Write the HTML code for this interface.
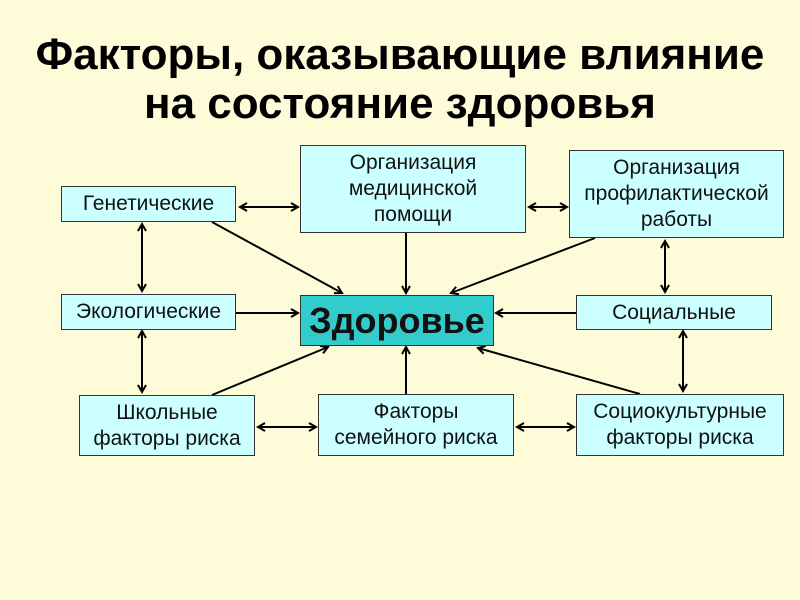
<!DOCTYPE html>
<html><head><meta charset="utf-8"><style>
body{margin:0;width:800px;height:600px;background:#fefcd8;position:relative;overflow:hidden;font-family:"Liberation Sans",sans-serif}
.t{position:absolute;left:0;width:800px;text-align:center;font-weight:bold;font-size:44px;color:#000}
.b{position:absolute;box-sizing:border-box;border:1px solid #333;background:#ccffff;display:flex;align-items:center;justify-content:center;text-align:center;font-size:21px;line-height:26px;color:#111;white-space:nowrap}
</style></head><body>
<div class="t" style="top:30px">Факторы, оказывающие влияние</div>
<div class="t" style="top:79px">на состояние здоровья</div>
<svg width="800" height="600" style="position:absolute;left:0;top:0">
<defs><marker id="a" markerWidth="10" markerHeight="10" refX="8" refY="5" orient="auto-start-reverse" markerUnits="userSpaceOnUse"><path d="M1,1 L8,5 L1,9" fill="none" stroke="#000" stroke-width="2"/></marker></defs>
<g stroke="#000" stroke-width="2" fill="none">
<line x1="240" y1="207" x2="298" y2="207" marker-start="url(#a)" marker-end="url(#a)"/>
<line x1="529" y1="207" x2="567" y2="207" marker-start="url(#a)" marker-end="url(#a)"/>
<line x1="212" y1="222" x2="342" y2="293" marker-end="url(#a)"/>
<line x1="406" y1="233" x2="406" y2="293" marker-end="url(#a)"/>
<line x1="595" y1="238" x2="451" y2="293" marker-end="url(#a)"/>
<line x1="142" y1="224" x2="142" y2="291" marker-start="url(#a)" marker-end="url(#a)"/>
<line x1="236" y1="313" x2="298" y2="313" marker-end="url(#a)"/>
<line x1="576" y1="313" x2="496" y2="313" marker-end="url(#a)"/>
<line x1="665" y1="241" x2="665" y2="292" marker-start="url(#a)" marker-end="url(#a)"/>
<line x1="142" y1="331" x2="142" y2="392" marker-start="url(#a)" marker-end="url(#a)"/>
<line x1="683" y1="331" x2="683" y2="391" marker-start="url(#a)" marker-end="url(#a)"/>
<line x1="212" y1="395" x2="328" y2="347" marker-end="url(#a)"/>
<line x1="406" y1="394" x2="406" y2="347" marker-end="url(#a)"/>
<line x1="640" y1="394" x2="478" y2="348" marker-end="url(#a)"/>
<line x1="258" y1="427" x2="316" y2="427" marker-start="url(#a)" marker-end="url(#a)"/>
<line x1="517" y1="427" x2="574" y2="427" marker-start="url(#a)" marker-end="url(#a)"/>
</g></svg>
<div class="b" style="left:61px;top:186px;width:175px;height:36px">Генетические</div>
<div class="b" style="left:300px;top:145px;width:226px;height:88px">Организация<br>медицинской<br>помощи</div>
<div class="b" style="left:569px;top:150px;width:215px;height:88px">Организация<br>профилактической<br>работы</div>
<div class="b" style="left:61px;top:294px;width:175px;height:36px">Экологические</div>
<div class="b" style="left:300px;top:295px;width:194px;height:51px;background:#33cccc;font-weight:bold;font-size:36px">Здоровье</div>
<div class="b" style="left:576px;top:295px;width:196px;height:35px">Социальные</div>
<div class="b" style="left:79px;top:395px;width:176px;height:61px">Школьные<br>факторы риска</div>
<div class="b" style="left:318px;top:394px;width:196px;height:62px">Факторы<br>семейного риска</div>
<div class="b" style="left:576px;top:394px;width:208px;height:62px">Социокультурные<br>факторы риска</div>
</body></html>
